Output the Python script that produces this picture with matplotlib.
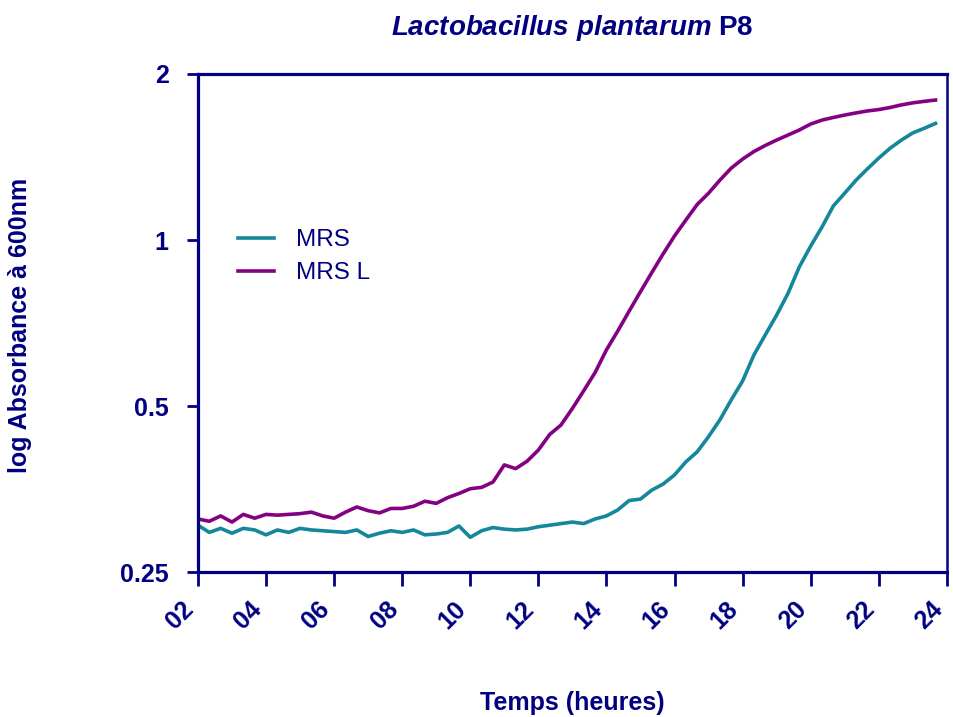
import matplotlib
matplotlib.use("Agg")
import matplotlib.pyplot as plt
import matplotlib.transforms as mtransforms
from matplotlib.ticker import FixedLocator, NullLocator

# Data (every 20 min, 2 h -> 23 h 40)
minutes = [120, 140, 160, 180, 200, 220, 240, 260, 280, 300, 320, 340,
           360, 380, 400, 420, 440, 460, 480, 500, 520, 540, 560, 580,
           600, 620, 640, 660, 680, 700, 720, 740, 760, 780, 800, 820,
           840, 860, 880, 900, 920, 940, 960, 980, 1000, 1020, 1040, 1060,
           1080, 1100, 1120, 1140, 1160, 1180, 1200, 1220, 1240, 1260, 1280, 1300,
           1320, 1340, 1360, 1380, 1400, 1420]

mrs = [0.304, 0.295, 0.300, 0.294, 0.300, 0.298, 0.292, 0.298, 0.295, 0.300,
       0.298, 0.297, 0.296, 0.295, 0.298, 0.290, 0.294, 0.297, 0.295, 0.298,
       0.292, 0.293, 0.295, 0.303, 0.289, 0.297, 0.301, 0.299, 0.298, 0.299,
       0.302, 0.304, 0.306, 0.308, 0.306, 0.312, 0.316, 0.324, 0.337, 0.339,
       0.352, 0.361, 0.375, 0.396, 0.413, 0.440, 0.472, 0.513, 0.555, 0.619,
       0.673, 0.731, 0.800, 0.894, 0.975, 1.056, 1.153, 1.216, 1.284, 1.346,
       1.408, 1.467, 1.518, 1.564, 1.594, 1.627]

mrs_l = [0.312, 0.309, 0.316, 0.308, 0.318, 0.313, 0.318, 0.317, 0.318, 0.319,
         0.321, 0.316, 0.313, 0.321, 0.328, 0.323, 0.320, 0.326, 0.326, 0.329,
         0.336, 0.333, 0.341, 0.347, 0.354, 0.356, 0.364, 0.391, 0.385, 0.397,
         0.416, 0.444, 0.462, 0.495, 0.533, 0.575, 0.632, 0.684, 0.743, 0.806,
         0.873, 0.944, 1.017, 1.087, 1.160, 1.216, 1.284, 1.350, 1.402, 1.447,
         1.484, 1.518, 1.550, 1.583, 1.623, 1.650, 1.668, 1.685, 1.700, 1.714,
         1.724, 1.739, 1.758, 1.773, 1.784, 1.794]

x_ticks = [2, 4, 6, 8, 10, 12, 14, 16, 18, 20, 22, 24]
x_labels = ["02", "04", "06", "08", "10", "12", "14", "16", "18", "20", "22", "24"]
y_ticks = [0.25, 0.5, 1, 2]
y_labels = ["0.25", "0.5", "1", "2"]

navy = "#000080"
teal = "#14879a"
purple = "#830283"

plt.rcParams["font.family"] = ["Liberation Sans", "DejaVu Sans"]
plt.rcParams["mathtext.fontset"] = "custom"
plt.rcParams["mathtext.it"] = "Liberation Sans:italic:bold"
plt.rcParams["mathtext.rm"] = "Liberation Sans:bold"

hours = [m / 60 for m in minutes]

fig = plt.figure(figsize=(9.54, 7.17), dpi=100)
ax = fig.add_axes([0.2075, 0.2022, 0.785, 0.6946])

ax.plot(hours, mrs, color=teal, lw=2.6, label="MRS")
ax.plot(hours, mrs_l, color=purple, lw=2.6, label="MRS L")

ax.set_yscale("log", base=2)
ax.set_xlim(2, 24)
ax.set_ylim(0.25, 2)
ax.yaxis.set_major_locator(FixedLocator(y_ticks))
ax.yaxis.set_minor_locator(NullLocator())
ax.set_yticklabels(y_labels)
ax.set_xticks(x_ticks)
ax.set_xticklabels(x_labels, rotation=45, ha="right", va="center",
                   rotation_mode="anchor")

for side in ["left", "bottom", "top"]:
    ax.spines[side].set_linewidth(2.3)
    ax.spines[side].set_color(navy)
ax.spines["right"].set_linewidth(1.8)
ax.spines["right"].set_color(navy)

ax.tick_params(axis="x", length=10, width=2, color=navy, labelcolor=navy,
               labelsize=18, pad=14)
ax.tick_params(axis="y", length=8, width=2, color=navy, labelcolor=navy,
               labelsize=18, pad=13)
shift = mtransforms.ScaledTranslation(-8 / 100, 0, fig.dpi_scale_trans)
for lab in ax.get_xticklabels():
    lab.set_fontweight("bold")
    lab.set_transform(lab.get_transform() + shift)
for lab in ax.get_yticklabels():
    lab.set_fontweight("bold")

fig.text(0.6001, 1 - 28 / 717, r"$\mathit{Lactobacillus\ plantarum}$ P8",
         ha="center", va="center", fontsize=20, fontweight="bold", color=navy)
fig.text(0.6001, 1 - 703 / 717, "Temps (heures)", ha="center", va="center",
         fontsize=18, fontweight="bold", color=navy)
fig.text(20 / 954, 1 - 325 / 717, "log Absorbance à 600nm", rotation=90,
         ha="center", va="center", fontsize=18, fontweight="bold", color=navy)

leg = ax.legend(loc="upper left", bbox_to_anchor=(0.0534, 0.688), frameon=False,
                fontsize=17.5, handlelength=1.5, handletextpad=0.9,
                labelspacing=0.45, borderpad=0, borderaxespad=0)
for t in leg.get_texts():
    t.set_color(navy)

fig.savefig("out.png", dpi=100)
